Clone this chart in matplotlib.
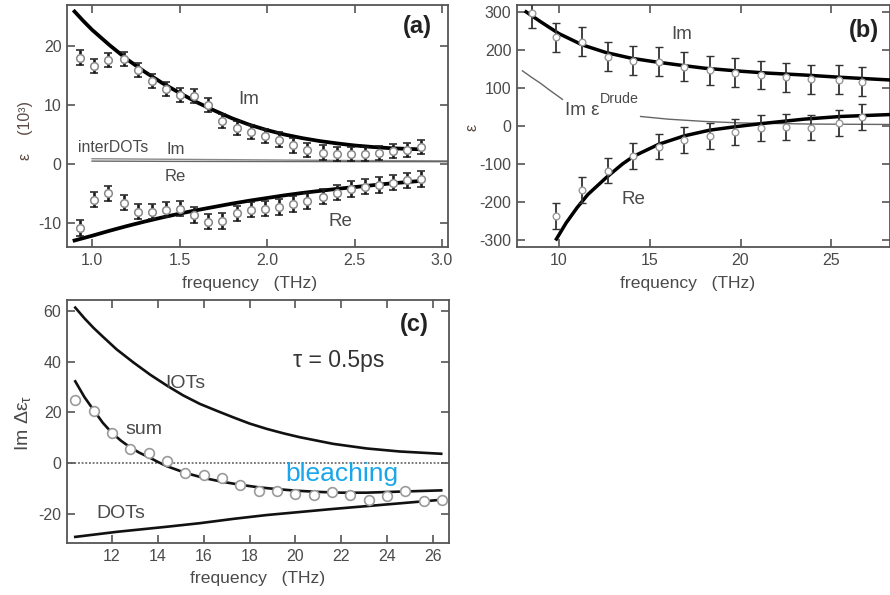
import matplotlib
matplotlib.use("Agg")
import matplotlib.pyplot as plt

plt.rcParams['font.family'] = ['Liberation Sans', 'DejaVu Sans']
plt.rcParams['mathtext.fontset'] = 'custom'
plt.rcParams['mathtext.rm'] = 'Liberation Sans'
plt.rcParams['mathtext.it'] = 'Liberation Sans:italic'
plt.rcParams['mathtext.bf'] = 'Liberation Sans:bold'
plt.rcParams['axes.unicode_minus'] = False

TXT = '#4a4a4a'
SPINE = '#555555'

# ---------------- panel (a): low-frequency permittivity ----------------
fa = [0.93, 1.01, 1.09, 1.18, 1.26, 1.34, 1.42, 1.50, 1.58, 1.66, 1.74, 1.83,
      1.91, 1.99, 2.07, 2.15, 2.23, 2.32, 2.40, 2.48, 2.56, 2.64, 2.72, 2.80, 2.88]
im_a = [18.0, 16.6, 17.6, 17.8, 15.9, 14.0, 12.6, 11.6, 11.5, 9.9, 7.2, 6.1,
        5.4, 4.7, 4.1, 3.1, 2.4, 1.9, 1.7, 1.7, 1.7, 1.8, 2.1, 2.4, 2.8]
re_a = [-10.9, -6.1, -5.0, -6.6, -8.1, -8.1, -7.8, -7.6, -8.7, -9.8, -9.7, -8.4,
        -7.8, -7.6, -7.3, -6.8, -6.3, -5.6, -4.9, -4.3, -3.9, -3.6, -3.2, -2.8, -2.6]
err_im_a = 1.2
err_re_a = 1.3

fit_fa = [0.90, 0.95, 1.00, 1.10, 1.20, 1.30, 1.40, 1.50, 1.60, 1.70, 1.80, 1.90,
          2.00, 2.10, 2.20, 2.30, 2.40, 2.50, 2.60, 2.70, 2.80, 2.88]
fit_im_a = [25.8, 24.2, 22.7, 20.1, 17.7, 15.6, 13.7, 12.0, 10.4, 9.0, 7.7, 6.6,
            5.7, 4.95, 4.35, 3.85, 3.45, 3.1, 2.85, 2.65, 2.52, 2.45]
fit_re_a = [-13.0, -12.6, -12.2, -11.35, -10.55, -9.8, -9.1, -8.45, -7.85, -7.3, -6.75, -6.25,
            -5.8, -5.35, -4.95, -4.6, -4.25, -3.95, -3.65, -3.35, -3.1, -2.9]

inter_f = [1.00, 1.50, 2.00, 2.50, 3.03]
inter_im = [0.85, 0.75, 0.65, 0.55, 0.50]
inter_re = [0.45, 0.40, 0.38, 0.36, 0.35]

# ---------------- panel (b): mid-IR permittivity ----------------
fb = [8.5, 9.87, 11.3, 12.7, 14.1, 15.5, 16.9, 18.3, 19.7, 21.1, 22.5, 23.9, 25.4, 26.7]
im_b = [296, 233, 221, 182, 171, 169, 156, 147, 140, 134, 128, 123, 121, 116]
fb_re = [9.87, 11.3, 12.7, 14.1, 15.5, 16.9, 18.3, 19.7, 21.1, 22.5, 23.9, 25.4, 26.7]
re_b = [-236, -168, -117, -80, -54, -37, -26, -15, -6, -2, -4, 7, 24]
err_im_b = 38
err_re_b = 34

fit_fb_im = [8.2, 9.0, 10.0, 11.3, 12.6, 14.0, 15.1, 16.5, 18.0, 20.0, 21.5, 23.5, 25.5, 28.2]
fit_im_b = [300, 274, 243, 213, 193, 178, 170, 161, 152, 144, 139, 134, 128, 121]
fit_fb_re = [9.87, 10.4, 11.0, 11.6, 12.6, 13.5, 14.1, 15.5, 16.9, 18.3, 19.7, 21.1, 23.5, 25.5, 28.2]
fit_re_b = [-297, -255, -215, -180, -136, -100, -80, -48, -26, -11, -2, 6, 18, 25, 30]

drude_f1 = [8.0, 8.5, 9.0, 9.5, 10.2]
drude_1 = [145, 128, 112, 94, 70]
drude_f2 = [14.5, 16.0, 18.0, 20.0, 24.0, 28.2]
drude_2 = [25, 18, 12, 8, 5, 4]

# ---------------- panel (c): pump-induced change ----------------
fc = [10.4, 11.2, 12.0, 12.8, 13.6, 14.4, 15.2, 16.0, 16.8, 17.6, 18.4, 19.2,
      20.0, 20.8, 21.6, 22.4, 23.2, 24.0, 24.8, 25.6, 26.4]
dim_c = [24.8, 20.7, 11.8, 5.5, 3.9, 0.8, -3.8, -4.8, -5.9, -8.5, -11.1, -11.1,
         -12.0, -12.7, -11.4, -12.4, -14.6, -12.9, -11.1, -14.9, -14.6]

iots_f = [10.4, 10.8, 11.2, 11.6, 12.2, 12.94, 13.67, 14.4, 15.1, 15.84, 16.6,
          17.3, 18.0, 18.75, 19.5, 20.2, 21.65, 23.1, 24.55, 26.36]
iots_c = [61.2, 57.0, 53.2, 49.8, 44.8, 39.6, 34.8, 30.5, 26.7, 23.3, 20.5,
          18.0, 15.6, 13.5, 11.7, 10.2, 7.6, 5.8, 4.6, 3.7]
sum_f = [10.4, 10.8, 11.2, 11.6, 12.0, 12.4, 12.8, 13.2, 13.6, 14.0, 14.4, 15.2,
         16.0, 16.8, 17.6, 18.4, 19.2, 20.0, 21.0, 22.0, 23.1, 24.5, 26.36]
sum_c = [32.2, 26.0, 20.9, 15.9, 11.9, 8.8, 6.2, 4.1, 2.4, 0.5, -1.2, -3.8,
         -5.8, -7.3, -8.5, -9.5, -10.2, -10.8, -11.3, -11.6, -11.6, -11.2, -10.7]
dots_f = [10.4, 12.22, 14.4, 15.84, 17.3, 18.75, 20.2, 21.65, 23.1, 24.55, 26.36]
dots_c = [-29.0, -27.0, -25.0, -23.6, -21.9, -20.4, -19.2, -18.0, -16.9, -15.8, -14.4]


def style_axes(ax):
    for s in ax.spines.values():
        s.set_color(SPINE)
        s.set_linewidth(1.3)
    ax.tick_params(direction='in', top=True, right=True, length=6, width=1.2,
                   color=SPINE, labelcolor=TXT, labelsize=11.5, pad=4)


fig = plt.figure(figsize=(8.9, 5.95), dpi=100)

# ---- (a)
axa = fig.add_axes([0.0753, 0.5849, 0.4281, 0.4067])
style_axes(axa)
axa.plot(inter_f, inter_im, color='#888888', lw=1.0)
axa.plot(inter_f, inter_re, color='#666666', lw=1.0)
axa.plot(fit_fa, fit_im_a, color='black', lw=2.7, zorder=3)
axa.plot(fit_fa, fit_re_a, color='black', lw=2.7, zorder=3)
for vals, err in ((im_a, err_im_a), (re_a, err_re_a)):
    axa.errorbar(fa, vals, yerr=err, fmt='o', ms=5.5, mfc='white', mec='#888888',
                 mew=1.1, ecolor='#1a1a1a', elinewidth=1.9, capsize=3.2,
                 capthick=2.2, zorder=4)
axa.set_xlim(0.857, 3.034)
axa.set_ylim(-14.1, 26.9)
axa.set_xticks([1.0, 1.5, 2.0, 2.5, 3.0])
axa.set_xticklabels(['1.0', '1.5', '2.0', '2.5', '3.0'])
axa.set_yticks([-10, 0, 10, 20])
axa.set_xlabel('frequency   (THz)', color=TXT, fontsize=12.6, va='top')
axa.xaxis.set_label_coords(0.478, -0.118)
axa.set_ylabel('ε    (10³)', color='#5a4c44', fontsize=11.5, va='center')
axa.yaxis.set_label_coords(-0.110, 0.483)
axa.text(1.895, 10.9, 'Im', color=TXT, fontsize=13.5, ha='center', va='center')
axa.text(1.12, 2.7, 'interDOTs', color=TXT, fontsize=11.3, ha='center', va='center')
axa.text(1.476, 2.5, 'Im', color=TXT, fontsize=12, ha='center', va='center')
axa.text(1.476, -2.1, 'Re', color=TXT, fontsize=12, ha='center', va='center')
axa.text(2.42, -9.8, 'Re', color=TXT, fontsize=13.5, ha='center', va='center')
axa.text(2.86, 23.3, '(a)', color='#222222', fontsize=17, fontweight='bold',
         ha='center', va='center')

# ---- (b)
axb = fig.add_axes([0.5809, 0.5849, 0.4186, 0.4067])
style_axes(axb)
axb.plot(drude_f1, drude_1, color='#666666', lw=1.0)
axb.plot(drude_f2, drude_2, color='#666666', lw=1.0)
axb.plot(fit_fb_im, fit_im_b, color='black', lw=2.5, zorder=3)
axb.plot(fit_fb_re, fit_re_b, color='black', lw=2.5, zorder=3)
axb.errorbar(fb, im_b, yerr=err_im_b, fmt='o', ms=4.8, mfc='white', mec='#999999',
             mew=1.0, ecolor='#333333', elinewidth=1.3, capsize=3.2, capthick=1.3, zorder=4)
axb.errorbar(fb_re, re_b, yerr=err_re_b, fmt='o', ms=4.8, mfc='white', mec='#999999',
             mew=1.0, ecolor='#333333', elinewidth=1.3, capsize=3.2, capthick=1.3, zorder=4)
axb.set_xlim(7.7, 28.2)
axb.set_ylim(-318, 318)
axb.set_xticks([10, 15, 20, 25])
axb.set_yticks([-300, -200, -100, 0, 100, 200, 300])
axb.set_xlabel('frequency   (THz)', color=TXT, fontsize=12.6, va='top')
axb.xaxis.set_label_coords(0.457, -0.118)
axb.set_ylabel('ε', color='#5a4c44', fontsize=11.5, va='center')
axb.yaxis.set_label_coords(-0.121, 0.496)
axb.text(16.75, 241, 'Im', color=TXT, fontsize=13.5, ha='center', va='center')
axb.text(11.3, 42, 'Im ε', color=TXT, fontsize=13.5, ha='center', va='center')
axb.text(13.35, 72, 'Drude', color=TXT, fontsize=10.3, ha='center', va='center')
axb.text(14.1, -194, 'Re', color=TXT, fontsize=13.5, ha='center', va='center')
axb.text(26.8, 252, '(b)', color='#222222', fontsize=17, fontweight='bold',
         ha='center', va='center')

# ---- (c)
axc = fig.add_axes([0.0753, 0.0874, 0.4292, 0.4084])
style_axes(axc)
axc.axhline(0, color='#555555', lw=1.1, ls=(0, (1.2, 1.2)), zorder=1)
axc.plot(iots_f, iots_c, color='#111111', lw=1.9, zorder=3)
axc.plot(sum_f, sum_c, color='#111111', lw=1.9, zorder=3)
axc.plot(dots_f, dots_c, color='#111111', lw=1.9, zorder=3)
axc.plot(fc, dim_c, 'o', ms=7, mfc='white', mec='#9a9a9a', mew=1.2, zorder=4)
axc.set_xlim(10.04, 26.7)
axc.set_ylim(-31.4, 64.2)
axc.set_xticks([12, 14, 16, 18, 20, 22, 24, 26])
axc.set_yticks([-20, 0, 20, 40, 60])
axc.set_xlabel('frequency   (THz)', color=TXT, fontsize=12.6, va='top')
axc.xaxis.set_label_coords(0.5, -0.115)
axc.set_ylabel(r'Im $\mathrm{\Delta\varepsilon}_{\mathrm{\tau}}$', color=TXT,
               fontsize=14, va='center')
axc.yaxis.set_label_coords(-0.115, 0.494)
axc.text(15.2, 31.4, 'IOTs', color=TXT, fontsize=14, ha='center', va='center')
axc.text(13.4, 13.2, 'sum', color=TXT, fontsize=14, ha='center', va='center')
axc.text(12.4, -19.8, 'DOTs', color=TXT, fontsize=14, ha='center', va='center')
axc.text(22.05, -4.4, 'bleaching', color='#19a6ea', fontsize=19, ha='center', va='center')
axc.text(21.9, 40.5, 'τ = 0.5ps', color='#333333', fontsize=16.5, ha='center', va='center')
axc.text(25.2, 54.6, '(c)', color='#222222', fontsize=17, fontweight='bold',
         ha='center', va='center')

fig.savefig('out.png', dpi=100)
